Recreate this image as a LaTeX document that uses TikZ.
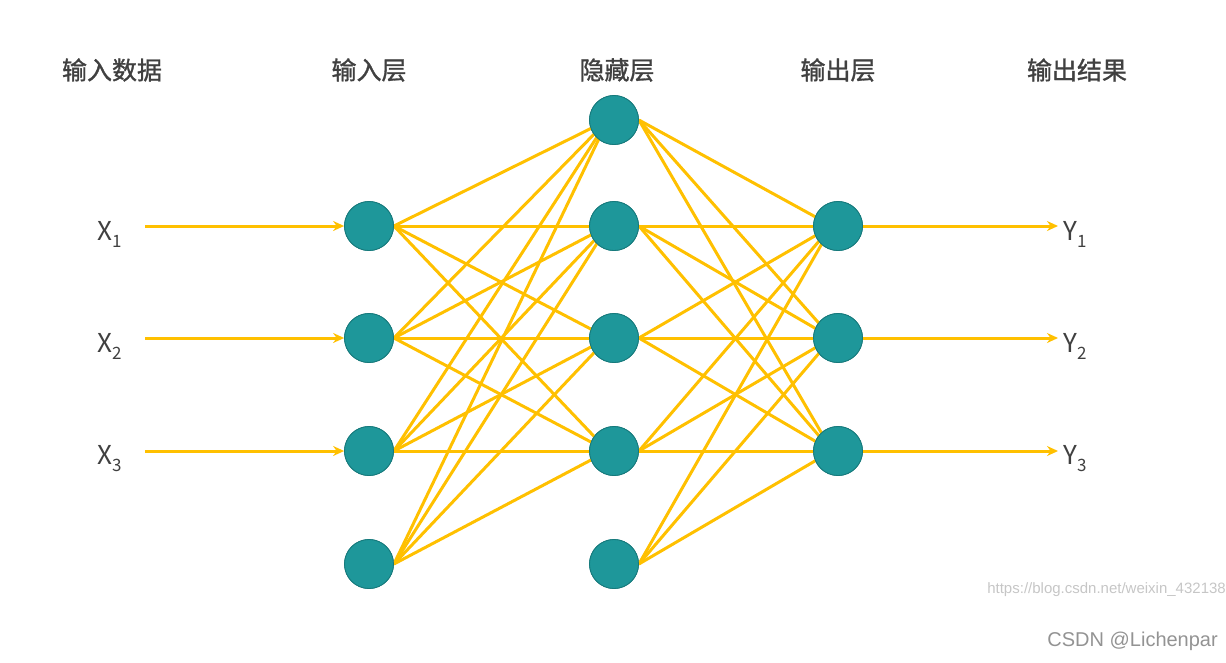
\documentclass[tikz,border=0pt]{standalone}
\usepackage{fontspec}
\setmainfont{Noto Sans CJK SC}
\newfontfamily\hdfont[FakeBold=1.2]{Noto Sans CJK SC}
\newfontfamily\wmfont{Liberation Sans}
\usetikzlibrary{arrows.meta}
\definecolor{teal1}{HTML}{1E979A}
\definecolor{teal2}{HTML}{16797B}
\definecolor{arr}{HTML}{FFC000}
\definecolor{txt}{HTML}{404040}
\newcommand{\sbs}[1]{\raisebox{-7pt}{\fontsize{17pt}{18pt}\selectfont #1}}
\tikzset{
 neuron/.style={circle,minimum size=49pt,inner sep=0pt,fill=teal1,draw=teal2,line width=0.8pt},
 conn/.style={draw=arr,line width=3pt,-{Stealth[length=11pt,width=10pt]}},
 head/.style={text=txt,font=\hdfont\fontsize{25pt}{27pt}\selectfont},
 lab/.style={text=txt,font=\fontsize{26pt}{28pt}\selectfont,inner sep=0pt}
}
\begin{document}
\begin{tikzpicture}[x=1pt,y=-1pt]
\useasboundingbox (0,0) rectangle (1226,662);
\node[head] at (112,70) {输入数据};
\node[head] at (369,70) {输入层};
\node[head] at (617,70) {隐藏层};
\node[head] at (838,70) {输出层};
\node[head] at (1077,70) {输出结果};
\foreach \i/\y in {1/226,2/338,3/451,4/564} \node[neuron] (a\i) at (369,\y) {};
\foreach \i/\y in {1/120,2/226,3/338,4/451,5/564} \node[neuron] (h\i) at (614,\y) {};
\foreach \i/\y in {1/226,2/338,3/451} \node[neuron] (o\i) at (838,\y) {};
\foreach \i/\y in {1/226,2/338,3/451} {
  \node[lab,anchor=west] (x\i) at (97,\y+8) {X\sbs{\i}};
  \coordinate (xs\i) at (145,\y);
  \draw[conn] (xs\i) -- (a\i);
  \coordinate (ye\i) at (1058,\y);
  \draw[conn] (o\i) -- (ye\i);
  \node[lab,anchor=west] (y\i) at (1063,\y+8) {Y\sbs{\i}};
}
\foreach \i in {1,...,4} \foreach \j in {1,...,4} \draw[conn] (a\i.east) -- ([xshift=-6pt]h\j.center);
\foreach \i in {1,...,5} \foreach \j in {1,...,3} \draw[conn] (h\i.east) -- ([xshift=-6pt]o\j.center);
\foreach \i in {1,...,4} \node[neuron] at (a\i) {};
\foreach \i in {1,...,5} \node[neuron] at (h\i) {};
\foreach \i in {1,...,3} \node[neuron] at (o\i) {};
\node[text=gray!45,font=\wmfont\fontsize{15pt}{16pt}\selectfont,anchor=east,inner sep=0pt] (wm) at (1226,590) {https://blog.csdn.net/weixin\_432138};
\node[text=gray!85,font=\wmfont\fontsize{20pt}{22pt}\selectfont,anchor=east,inner sep=0pt] (cs) at (1218,641) {CSDN @Lichenpar};
\end{tikzpicture}
\end{document}
